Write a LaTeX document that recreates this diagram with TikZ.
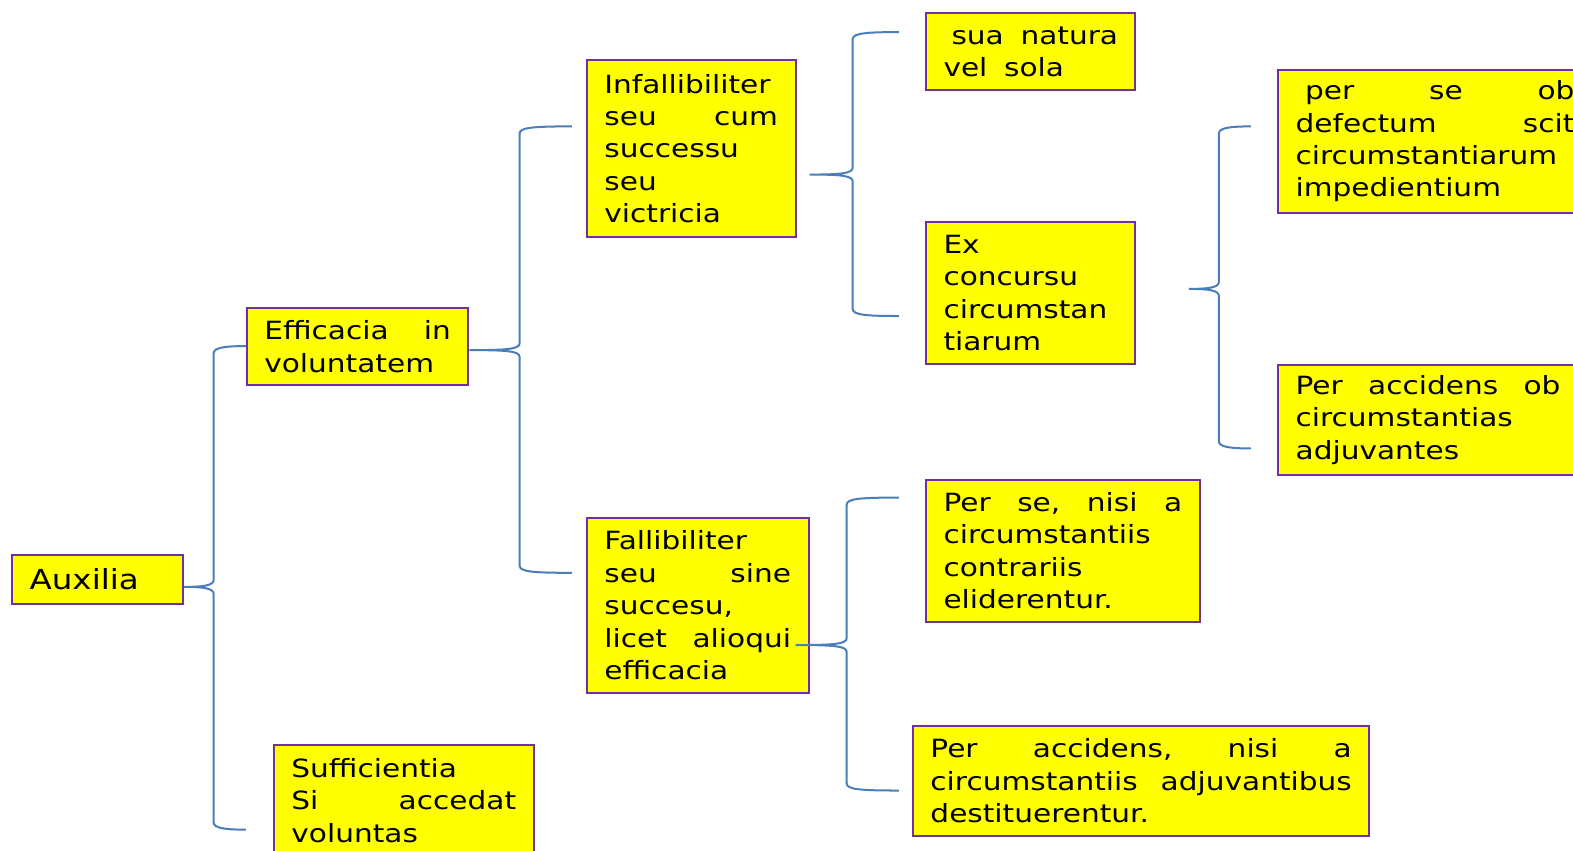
\documentclass[tikz,border=0pt]{standalone}
\usepackage{fontspec}
\setmainfont{DejaVu Sans}[FakeStretch=1.18]
\usetikzlibrary{calc}
\definecolor{boxfill}{HTML}{FFFF00}
\definecolor{boxline}{HTML}{7030A0}
\definecolor{braceline}{HTML}{4A7EBB}
\newcommand\boxfont{\fontsize{25pt}{32.3pt}\selectfont}
\newcommand\rootfont{\fontsize{27.5pt}{32.3pt}\selectfont}
% a justified line: words separated by \hfill fill the full text width
\newcommand\jl[1]{\leavevmode\hbox to\hsize{#1}}
% left curly brace: #1 tip, #2 upper free end, #3 lower free end, #4 point on the spine
\newcommand\curly[4]{%
  \draw[brace] let \p1=(#1), \p2=(#2), \p3=(#3), \p4=(#4) in
    (\p2) .. controls (\x4+14pt,\y2) and (\x4,\y2-1pt) .. (\x4,\y2-7pt)
    -- (\x4,\y1+7pt) .. controls (\x4,\y1+1pt) and (\x4-12pt,\y1) .. (\p1)
    .. controls (\x4-12pt,\y1) and (\x4,\y1-1pt) .. (\x4,\y1-7pt)
    -- (\x4,\y3+7pt) .. controls (\x4,\y3+1pt) and (\x4+14pt,\y3) .. (\p3);}

\begin{document}
\begin{tikzpicture}[x=1pt,y=-1pt,
  box/.style={draw=boxline, fill=boxfill, line width=2pt, anchor=north west,
    inner xsep=17.5pt, inner ysep=0pt, align=left, font=\boxfont, text=black},
  brace/.style={draw=braceline, line width=2pt}]
\useasboundingbox (0,0) rectangle (1568,848);
\fill[white] (0,0) rectangle (1568,848);
\clip (0,0) rectangle (1568,848);

% boxes
\node[box, text width=135pt, minimum height=49pt, font=\rootfont] (aux) at (11,552) {Auxilia};
\node[box, text width=186pt, minimum height=77pt] (eff) at (245,306)
  {\jl{Efficacia\hfill in}\\voluntatem};
\node[box, text width=224pt, minimum height=110pt] (suf) at (272,742)
  {Sufficientia\\\jl{Si\hfill accedat}\\voluntas};
\node[box, text width=173pt, minimum height=176pt] (inf) at (584,59)
  {Infallibiliter\\\jl{seu\hfill cum}\\successu\\seu\\victricia};
\node[box, text width=186pt, minimum height=175pt] (fal) at (584,515)
  {Fallibiliter\\\jl{seu\hfill sine}\\succesu,\\\jl{licet\hfill alioqui}\\efficacia};
\node[box, text width=173pt, minimum height=77pt] (sua) at (922,12)
  {\hspace*{8pt}sua~~natura\\vel~~sola};
\node[box, text width=173pt, minimum height=142pt] (ex) at (922,220)
  {Ex\\concursu\\circumstan\\tiarum};
\node[box, text width=278pt, minimum height=142pt] (perse) at (1273,69)
  {\jl{\hspace*{9.4pt}per\hfill se\hfill ob}\\\jl{defectum\hfill scit}\\circumstantiarum\\impedientium};
\node[box, text width=264pt, minimum height=109pt] (peracc) at (1273,363)
  {\jl{Per\hfill accidens\hfill ob}\\circumstantias\\adjuvantes};
\node[box, text width=238pt, minimum height=142pt] (nisise) at (922,477)
  {\jl{Per\hfill se,\hfill nisi\hfill a}\\circumstantiis\\contrariis\\eliderentur.};
\node[box, text width=420pt, minimum height=109pt] (nisiacc) at (909,723)
  {\jl{Per\hfill accidens,\hfill nisi\hfill a}\\\jl{circumstantiis\hfill adjuvantibus}\\destituerentur.};

% brace tips, spines and free ends
\coordinate (t1) at ($(aux.east)+(0,7.5)$);
\coordinate (s1) at (213,0);
\coordinate (u1) at (245,345);
\coordinate (d1) at (245,827);

\coordinate (t2) at ($(eff.east)+(0,3.5)$);
\coordinate (s2) at (518,0);
\coordinate (u2) at (570,126);
\coordinate (d2) at (570,571);

\coordinate (t3) at ($(inf.east)+(13,26)$);
\coordinate (s3) at (850,0);
\coordinate (u3) at (896,32);
\coordinate (d3) at (896,315);

\coordinate (t4) at ($(ex.east)+(53,-4)$);
\coordinate (s4) at (1215,0);
\coordinate (u4) at (1247,126);
\coordinate (d4) at (1247,447);

\coordinate (t5) at ($(fal.east)+(-14,39.5)$);
\coordinate (s5) at (844,0);
\coordinate (u5) at (896,496);
\coordinate (d5) at (896,788);

\curly{t1}{u1}{d1}{s1}
\curly{t2}{u2}{d2}{s2}
\curly{t3}{u3}{d3}{s3}
\curly{t4}{u4}{d4}{s4}
\curly{t5}{u5}{d5}{s5}
\end{tikzpicture}
\end{document}
